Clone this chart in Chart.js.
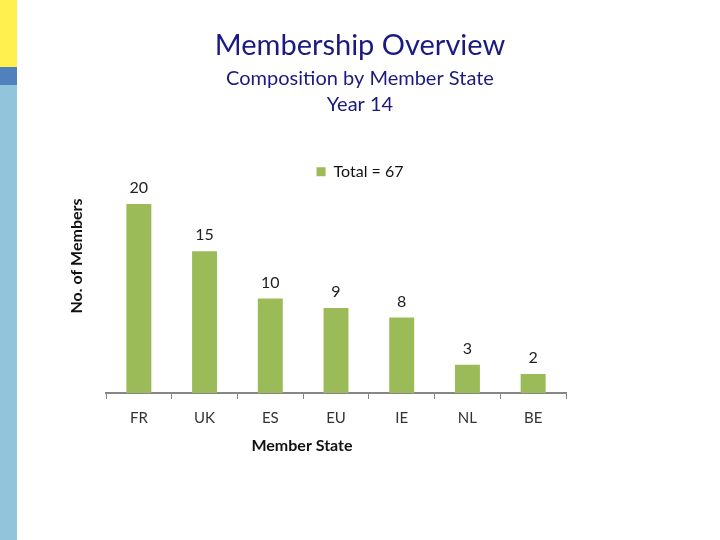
<!DOCTYPE html>
<html>
<head>
<meta charset="utf-8">
<script src="https://cdn.jsdelivr.net/npm/chart.js@4"></script>
<style>
  html, body { margin: 0; padding: 0; background: #fff; }
  #wrap { position: relative; width: 720px; height: 540px; }
  .strip { position: absolute; left: 0; width: 17px; }
  #s1 { top: 0; height: 67px; background: #ffef4f; }
  #s2 { top: 67px; height: 18px; background: #4f81bd; }
  #s3 { top: 85px; height: 455px; background: #92c5dc; }
  canvas { position: absolute; left: 0; top: 0; }
</style>
</head>
<body>
<div id="wrap">
  <div class="strip" id="s1"></div>
  <div class="strip" id="s2"></div>
  <div class="strip" id="s3"></div>
  <canvas id="myChart" width="720" height="540"></canvas>
</div>
<script>
const states = ["FR", "UK", "ES", "EU", "IE", "NL", "BE"];
const members = [20, 15, 10, 9, 8, 3, 2];
const legendLabel = "Total = 67";

const FONT = "Lato, 'Liberation Sans', sans-serif";

// value labels above bars + axis titles
const extras = {
  id: "extras",
  afterDatasetsDraw(chart) {
    const ctx = chart.ctx;
    const meta = chart.getDatasetMeta(0);
    ctx.save();
    ctx.fillStyle = "#222";
    ctx.font = "16px " + FONT;
    ctx.textAlign = "center";
    ctx.textBaseline = "middle";
    meta.data.forEach(function (bar, i) {
      ctx.fillText(members[i], bar.x, bar.y - 16);
    });

    ctx.font = "bold 16px " + FONT;
    ctx.fillStyle = "#111";
    ctx.fillText("Member State", 302, 446);

    ctx.translate(77, 256);
    ctx.rotate(-Math.PI / 2);
    ctx.fillText("No. of Members", 0, 0);
    ctx.restore();
  }
};

const ctx = document.getElementById("myChart").getContext("2d");

const config = {
  type: "bar",
  data: {
    labels: states,
    datasets: [
      {
        label: legendLabel,
        data: members,
        backgroundColor: "#9bbb59",
        borderWidth: 0,
        categoryPercentage: 1,
        barPercentage: 0.38,
      },
    ],
  },
  options: {
    responsive: false,
    animation: false,
    layout: {
      padding: { left: 0, right: 0, top: 0, bottom: 103 },
    },
    scales: {
      x: {
        grid: {
          display: true,
          drawOnChartArea: false,
          tickLength: 6,
          color: "#868686",
        },
        border: { display: true, color: "#868686", width: 2 },
        ticks: {
          color: "#333",
          font: { family: FONT, size: 15 },
          padding: 10,
        },
      },
      y: {
        position: "left",
        min: 0,
        max: 21.5,
        grid: { display: false },
        border: { display: false },
        ticks: { display: false },
        afterFit(scale) { scale.width = 106; },
      },
      pad: {
        position: "right",
        grid: { display: false },
        border: { display: false },
        ticks: { display: false },
        afterFit(scale) { scale.width = 154; },
      },
    },
    plugins: {
      title: {
        display: true,
        text: "Membership Overview",
        color: "#1a1a80",
        font: { family: FONT, size: 29, weight: "normal" },
        padding: { top: 28, bottom: 0 },
      },
      subtitle: {
        display: true,
        text: ["Composition by Member State", "Year 14"],
        color: "#1a1a80",
        font: { family: FONT, size: 20, weight: "normal", lineHeight: 1.3 },
        padding: { top: 3, bottom: 40 },
      },
      legend: {
        display: true,
        position: "top",
        labels: {
          color: "#111",
          font: { family: FONT, size: 16 },
          boxWidth: 9,
          boxHeight: 9,
          padding: 6,
        },
      },
      tooltip: { enabled: false },
    },
  },
  plugins: [extras],
};

const myChart = new Chart(ctx, config);
</script>
</body>
</html>
